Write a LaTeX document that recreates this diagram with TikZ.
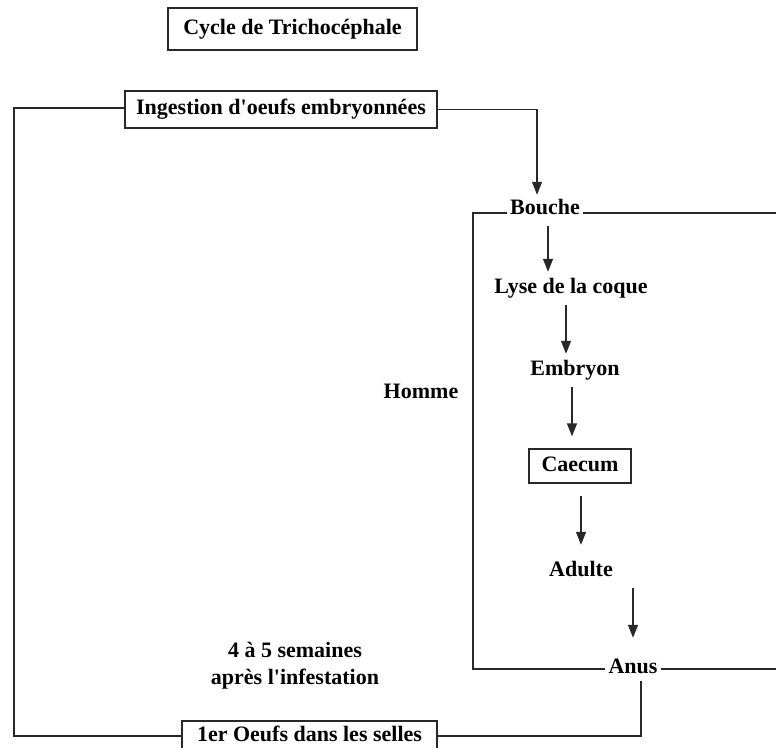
\documentclass[tikz,border=0pt]{standalone}
\usepackage{fontspec}
\setmainfont{Liberation Serif}
\usepackage{xcolor}
\usepackage{tikz}
\usetikzlibrary{arrows.meta}
\definecolor{ink}{RGB}{40,40,40}

\begin{document}
\begin{tikzpicture}[x=1pt,y=-1pt]
    \tikzstyle{wire}=[line width=1.3pt,ink]
    \tikzstyle{flow}=[line width=1.3pt,ink,-{Triangle[length=13pt,width=10pt]},shorten <=4pt,shorten >=3pt]
    \tikzstyle{label}=[font=\fontsize{22}{27}\selectfont\bfseries,text height=15pt,text depth=5pt,inner sep=3pt]
    \tikzstyle{boxed}=[label,draw=ink,line width=1.3pt,inner xsep=6pt]
    \useasboundingbox (0,0) rectangle (776,747);
    \coordinate (oTL) at (14,108);  \coordinate (oBL) at (14,736);
    \coordinate (hTL) at (473,213); \coordinate (hTR) at (776,213);
    \coordinate (hBL) at (473,669); \coordinate (hBR) at (776,669);
    % Draw the labels
    \node[boxed,minimum width=249pt,minimum height=42pt] (title) at (292.5,29) {Cycle de Trichocéphale};
    \node[boxed,minimum width=312pt,minimum height=37pt] (ingest) at (281,109.5) {Ingestion d\textquotesingle oeufs embryonnées};
    \node[label] (bouche) at (545,209) {Bouche};
    \node[label] (lyse) at (571,288) {Lyse de la coque};
    \node[label] (embryon) at (575,370) {Embryon};
    \node[boxed,minimum width=102pt,minimum height=34pt] (caecum) at (580,466) {Caecum};
    \node[label] (adulte) at (581,571) {Adulte};
    \node[label] (anus) at (633,668) {Anus};
    \node[label] (homme) at (421,393) {Homme};
    \node[label,align=center,text height=,text depth=] (delay) at (295,666) {4 à 5 semaines\\après l\textquotesingle infestation};
    \node[boxed,minimum width=255pt,minimum height=30pt] (oeufs) at (309.5,736) {1er Oeufs dans les selles};
    % Draw the host frame
    \draw[wire] (bouche.west |- hTL) -- (hTL) -- (hBL) -- (anus.west |- hBL);
    \draw[wire] (bouche.east |- hTL) -- (hTR);
    \draw[wire] (anus.east |- hBL) -- (hBR);
    % Draw the outer loop
    \draw[wire] (ingest.west |- oTL) -- (oTL) -- (oBL) -- (oeufs.west |- oBL);
    \draw[wire] ([xshift=8pt]anus.south) -- ([xshift=8pt]anus.south |- oBL) -- (oeufs.east |- oBL);
    % Draw the steps
    \draw[flow,shorten <=0pt,shorten >=1pt] (ingest.east) -| ([xshift=-8pt]bouche.north);
    \draw[flow] ([xshift=3pt]bouche.south) -- ([xshift=3pt]bouche.south |- lyse.north);
    \draw[flow] ([xshift=-5pt]lyse.south) -- ([xshift=-5pt]lyse.south |- embryon.north);
    \draw[flow,shorten >=12pt] ([xshift=-3pt]embryon.south) -- ([xshift=-3pt]embryon.south |- caecum.north);
    \draw[flow,shorten <=12pt,shorten >=13pt] ([xshift=1pt]caecum.south) -- ([xshift=1pt]caecum.south |- adulte.north);
    \draw[flow,shorten >=17pt] (adulte.south -| anus.north) -- (anus.north);
\end{tikzpicture}
\end{document}
